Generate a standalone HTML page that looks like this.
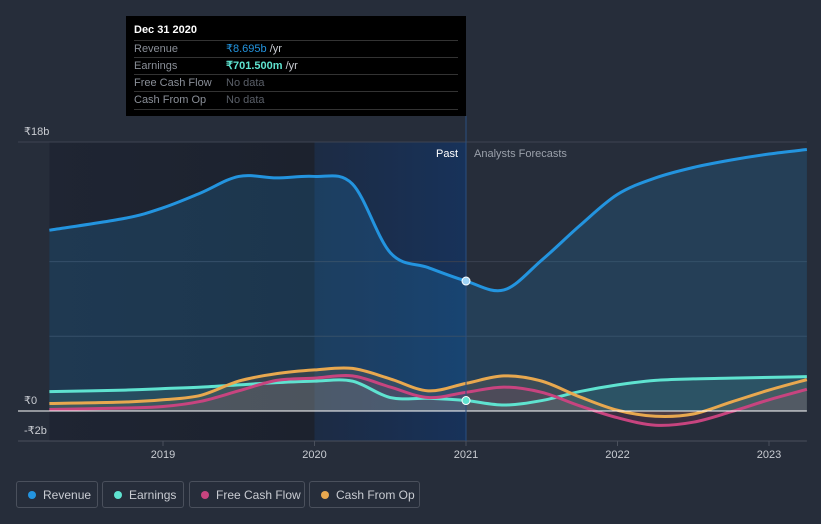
<!DOCTYPE html>
<html><head><meta charset="utf-8"><style>
body{margin:0;background:#262d3a;font-family:"Liberation Sans",sans-serif;}
#wrap{position:relative;width:821px;height:524px;overflow:hidden;background:#262d3a}
svg{position:absolute;left:0;top:0}
.tip{position:absolute;left:126px;top:16px;width:340px;height:100px;background:#000;}
.tip .row{position:absolute;left:8px;width:324px;height:17px;border-top:1px solid #333;font-size:11px;color:#8a8f98;line-height:17px}
.leg{position:absolute;top:481px;height:27px;border:1px solid #4a505c;border-radius:3px;color:#c9ccd2;font-size:12px;line-height:27px;box-sizing:border-box;padding-left:26px}
.leg i{position:absolute;left:11px;top:9px;width:8px;height:8px;border-radius:50%}
</style></head><body>
<div id="wrap">
<svg id="chart" width="821" height="524">
<defs>
<linearGradient id="past" x1="0" x2="1"><stop offset="0" stop-color="#1f2533"/><stop offset="1" stop-color="#1c222e"/></linearGradient>
<linearGradient id="hl" x1="0" x2="1"><stop offset="0" stop-color="#1a2b47" stop-opacity="0.8"/><stop offset="1" stop-color="#17325a"/></linearGradient>
</defs>
<g id="bg"></g><g id="areas"></g><g id="lines"></g><g id="axes"></g>
</svg>
<div class="tip">
<div style="position:absolute;left:8px;top:8px;color:#fff;font-weight:bold;font-size:11px">Dec 31 2020</div>
<div class="row" style="top:24px">Revenue<span style="position:absolute;left:92px;color:#2394df">₹8.695b <span style="color:#c9ccd2">/yr</span></span></div>
<div class="row" style="top:41px">Earnings<span style="position:absolute;left:92px;color:#5fe3d0;font-weight:bold">₹701.500m <span style="color:#c9ccd2;font-weight:normal">/yr</span></span></div>
<div class="row" style="top:58px">Free Cash Flow<span style="position:absolute;left:92px;color:#5a5f68">No data</span></div>
<div class="row" style="top:75px;border-bottom:1px solid #333">Cash From Op<span style="position:absolute;left:92px;color:#5a5f68">No data</span></div>
</div>
<div class="leg" style="left:16px;width:82px"><i style="background:#2394df"></i>Revenue</div>
<div class="leg" style="left:102px;width:82px"><i style="background:#5fe3d0"></i>Earnings</div>
<div class="leg" style="left:189px;width:116px"><i style="background:#c7447f"></i>Free Cash Flow</div>
<div class="leg" style="left:309px;width:111px"><i style="background:#e8a84f"></i>Cash From Op</div>
</div>
<script>
const years=[2018.25,2018.75,2019,2019.25,2019.5,2019.75,2020,2020.25,2020.5,2020.75,2021,2021.25,2021.5,2021.75,2022,2022.25,2022.5,2022.75,2023,2023.25];
const revenue=[12.1,12.9,13.6,14.6,15.7,15.6,15.7,15.2,10.6,9.6,8.7,8.1,10.1,12.4,14.5,15.6,16.3,16.8,17.2,17.5];
const earnings=[1.3,1.4,1.5,1.6,1.75,1.9,2.0,2.0,0.9,0.85,0.7,0.4,0.7,1.3,1.75,2.05,2.15,2.2,2.25,2.3];
const fcf=[0.1,0.2,0.3,0.65,1.35,2.05,2.2,2.35,1.6,0.9,1.25,1.6,1.25,0.35,-0.45,-0.95,-0.75,-0.05,0.75,1.45];
const cfo=[0.5,0.6,0.75,1.05,2.0,2.5,2.75,2.85,2.15,1.35,1.85,2.35,2.0,0.95,0.05,-0.35,-0.2,0.6,1.4,2.1];
const yTicks=[18,0,-2];const yLabels=["₹18b","₹0","-₹2b"];
const gridVals=[10,5];
const xTicks=[2019,2020,2021,2022,2023];
const X=v=>163+(v-2019)*151.5;
const Y=v=>411-v*14.94;
const NS="http://www.w3.org/2000/svg";
function mk(tag,attrs,parent){const e=document.createElementNS(NS,tag);for(const k in attrs)e.setAttribute(k,attrs[k]);document.getElementById(parent).appendChild(e);return e;}
function path(vals){const p=years.map((y,i)=>[X(y),Y(vals[i])]);let d=`M${p[0][0]},${p[0][1]}`;
for(let i=0;i<p.length-1;i++){const p0=p[Math.max(0,i-1)],p1=p[i],p2=p[i+1],p3=p[Math.min(p.length-1,i+2)];
d+=` C${p1[0]+(p2[0]-p0[0])/6},${p1[1]+(p2[1]-p0[1])/6} ${p2[0]-(p3[0]-p1[0])/6},${p2[1]-(p3[1]-p1[1])/6} ${p2[0]},${p2[1]}`;}return d;}
const x0=X(years[0]),x1=X(years[years.length-1]);
let r=mk('rect',{x:x0,y:142,width:X(2020)-x0,height:299,fill:'url(#past)'},'bg');

r=mk('rect',{x:X(2020),y:142,width:X(2021)-X(2020),height:299,fill:'url(#hl)'},'bg');

gridVals.forEach(v=>{let e=mk('line',{x1:x0,x2:x1,y1:Y(v),y2:Y(v),stroke:'#3a4150','stroke-width':1},'bg');});
const series=[[revenue,'#2394df','revenue',0.18],[earnings,'#5fe3d0','earnings',0.12],[fcf,'#c7447f','fcf',0.12],[cfo,'#e8a84f','cfo',0.12]];
series.forEach(([v,c,n,o])=>{const d=path(v);
let a=mk('path',{d:d+` L${x1},${Y(0)} L${x0},${Y(0)} Z`,fill:c,'fill-opacity':o},'areas');

let l=mk('path',{d:d,fill:'none',stroke:c,'stroke-width':3},'lines');
});
let g=mk('line',{x1:18,x2:x1,y1:142,y2:142,stroke:'#3d4452'},'axes');
g=mk('line',{x1:18,x2:x1,y1:Y(0),y2:Y(0),stroke:'#fff','stroke-width':1},'axes');
g=mk('line',{x1:18,x2:x1,y1:441,y2:441,stroke:'#4a505c'},'axes');
g=mk('line',{x1:X(2021),x2:X(2021),y1:116,y2:441,stroke:'#2a4f80'},'axes');
yTicks.forEach((v,i)=>{let t=mk('text',{x:24,y:Y(v)-7,fill:'#c9ccd2','font-size':11},'axes');t.textContent=yLabels[i];
});
xTicks.forEach(v=>{let t=mk('line',{x1:X(v),x2:X(v),y1:441,y2:446,stroke:'#4a505c'},'axes');
t=mk('text',{x:X(v),y:458,fill:'#c9ccd2','font-size':11,'text-anchor':'middle'},'axes');t.textContent=v;
});
let t=mk('text',{x:X(2021)-8,y:157,fill:'#fff','font-size':11,'text-anchor':'end'},'axes');t.textContent='Past';
t=mk('text',{x:X(2021)+8,y:157,fill:'#9aa0aa','font-size':11},'axes');t.textContent='Analysts Forecasts';
const i21=years.indexOf(2021);
t=mk('circle',{cx:X(2021),cy:Y(revenue[i21]),r:4,fill:'#9fd3f5',stroke:'#fff'},'axes');
t=mk('circle',{cx:X(2021),cy:Y(earnings[i21]),r:4,fill:'#5fe3d0',stroke:'#fff'},'axes');
</script>
</body></html>
